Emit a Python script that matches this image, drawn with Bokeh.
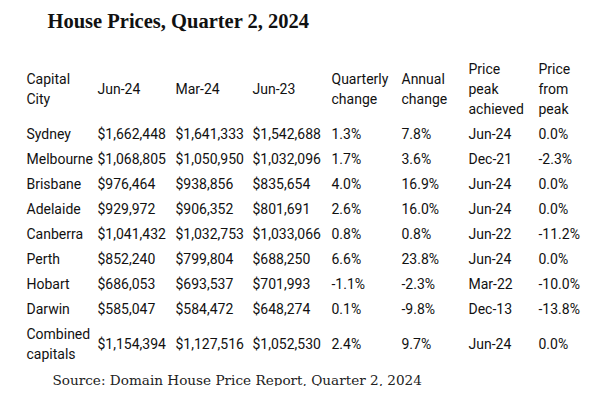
from bokeh.plotting import figure
from bokeh.models import Range1d, ColumnDataSource
from bokeh.core.properties import value
from bokeh.embed import file_html
from bokeh.resources import INLINE

# ---------------- data ----------------
title_text = "House Prices, Quarter 2, 2024"
source_text = "Source: Domain House Price Report, Quarter 2, 2024"

headers = ["Capital\nCity", "Jun-24", "Mar-24", "Jun-23", "Quarterly\nchange",
           "Annual\nchange", "Price\npeak\nachieved", "Price\nfrom\npeak"]

cities = ["Sydney", "Melbourne", "Brisbane", "Adelaide", "Canberra", "Perth",
          "Hobart", "Darwin", "Combined\ncapitals"]
jun24 = [1662448, 1068805, 976464, 929972, 1041432, 852240, 686053, 585047, 1154394]
mar24 = [1641333, 1050950, 938856, 906352, 1032753, 799804, 693537, 584472, 1127516]
jun23 = [1542688, 1032096, 835654, 801691, 1033066, 688250, 701993, 648274, 1052530]
quarterly = [1.3, 1.7, 4.0, 2.6, 0.8, 6.6, -1.1, 0.1, 2.4]
annual = [7.8, 3.6, 16.9, 16.0, 0.8, 23.8, -2.3, -9.8, 9.7]
peak_achieved = ["Jun-24", "Dec-21", "Jun-24", "Jun-24", "Jun-22", "Jun-24",
                 "Mar-22", "Dec-13", "Jun-24"]
from_peak = [0.0, -2.3, 0.0, 0.0, -11.2, 0.0, -10.0, -13.8, 0.0]

# ---------------- layout ----------------
W, H = 588, 386
col_x = [26, 97, 175, 252, 331, 401, 468, 538]
header_top = 55.5
row_pad = 25
line_h = 20

money = lambda v: "${:,}".format(v)
pct = lambda v: "{:.1f}%".format(v)

rows = [headers]
for i in range(len(cities)):
    rows.append([cities[i], money(jun24[i]), money(mar24[i]), money(jun23[i]),
                 pct(quarterly[i]), pct(annual[i]), peak_achieved[i], pct(from_peak[i])])

xs, ys, txt = [], [], []
top = header_top
for r in rows:
    nl = max(len(c.split("\n")) for c in r)
    h = row_pad + (nl - 1) * line_h
    center = top + h / 2
    for j, cell in enumerate(r):
        lines = cell.split("\n")
        k = len(lines)
        for li, ln in enumerate(lines):
            xs.append(col_x[j])
            ys.append(center + (li - (k - 1) / 2) * line_h)
            txt.append(ln)
    top += h

p = figure(width=W, height=H, output_backend="svg", toolbar_location=None,
           x_range=Range1d(0, W), y_range=Range1d(H, 0), min_border=0,
           background_fill_color="white", border_fill_color="white")
p.axis.visible = False
p.grid.visible = False
p.outline_line_color = None

src = ColumnDataSource(dict(x=xs, y=ys, t=txt))
p.text(x="x", y="y", text="t", source=src, text_font=value("Roboto"),
       text_font_size="14px", text_color="#111111", text_align="left",
       text_baseline="middle")

p.text(x=[47], y=[20], text=[title_text], text_font=value("Liberation Serif"),
       text_font_style="bold", text_font_size="20.5px", text_color="#111111",
       text_align="left", text_baseline="middle")
p.text(x=[52], y=[379], text=[source_text], text_font=value("DejaVu Serif"),
       text_font_size="13.6px", text_color="#222222",
       text_align="left", text_baseline="middle")

open("out.html", "w").write(file_html(p, INLINE))
